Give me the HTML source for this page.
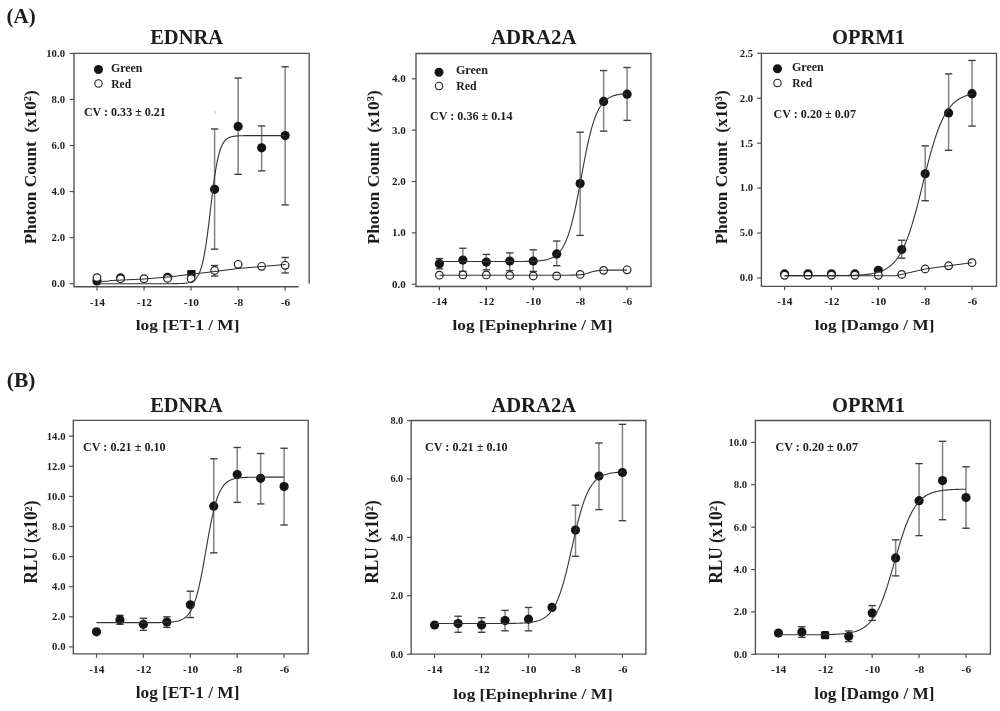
<!DOCTYPE html>
<html><head><meta charset="utf-8"><style>
html,body{margin:0;padding:0;background:#fff;}
svg{display:block;filter:grayscale(1);}
text{font-family:"Liberation Serif",serif;font-weight:bold;white-space:pre;}
</style></head><body>
<svg width="1000" height="711" viewBox="0 0 1000 711">
<rect width="1000" height="711" fill="#fff"/>
<path d="M74.00,286.70 L74.00,53.40 L309.20,53.40 L309.20,283.70" fill="none" stroke="#505050" stroke-width="1.35"/>
<line x1="73.40" y1="286.70" x2="298.60" y2="286.70" stroke="#505050" stroke-width="1.35"/>
<line x1="69.80" y1="283.70" x2="74.00" y2="283.70" stroke="#505050" stroke-width="1.2"/>
<line x1="69.80" y1="237.64" x2="74.00" y2="237.64" stroke="#505050" stroke-width="1.2"/>
<line x1="69.80" y1="191.58" x2="74.00" y2="191.58" stroke="#505050" stroke-width="1.2"/>
<line x1="69.80" y1="145.52" x2="74.00" y2="145.52" stroke="#505050" stroke-width="1.2"/>
<line x1="69.80" y1="99.46" x2="74.00" y2="99.46" stroke="#505050" stroke-width="1.2"/>
<line x1="69.80" y1="53.40" x2="74.00" y2="53.40" stroke="#505050" stroke-width="1.2"/>
<line x1="97.00" y1="286.70" x2="97.00" y2="290.50" stroke="#505050" stroke-width="1.2"/>
<line x1="120.52" y1="286.70" x2="120.52" y2="286.70" stroke="#505050" stroke-width="1.2"/>
<line x1="144.04" y1="286.70" x2="144.04" y2="290.50" stroke="#505050" stroke-width="1.2"/>
<line x1="167.56" y1="286.70" x2="167.56" y2="286.70" stroke="#505050" stroke-width="1.2"/>
<line x1="191.08" y1="286.70" x2="191.08" y2="290.50" stroke="#505050" stroke-width="1.2"/>
<line x1="214.60" y1="286.70" x2="214.60" y2="286.70" stroke="#505050" stroke-width="1.2"/>
<line x1="238.12" y1="286.70" x2="238.12" y2="290.50" stroke="#505050" stroke-width="1.2"/>
<line x1="261.64" y1="286.70" x2="261.64" y2="286.70" stroke="#505050" stroke-width="1.2"/>
<line x1="285.16" y1="286.70" x2="285.16" y2="290.50" stroke="#505050" stroke-width="1.2"/>
<circle cx="97.00" cy="280.94" r="4.6" fill="#141414"/>
<circle cx="120.52" cy="277.94" r="4.6" fill="#141414"/>
<circle cx="167.56" cy="277.25" r="4.6" fill="#141414"/>
<line x1="214.60" y1="128.94" x2="214.60" y2="249.15" stroke="#828282" stroke-width="1.5"/>
<line x1="210.90" y1="128.94" x2="218.30" y2="128.94" stroke="#3c3c3c" stroke-width="1.35"/>
<line x1="210.90" y1="249.15" x2="218.30" y2="249.15" stroke="#3c3c3c" stroke-width="1.35"/>
<circle cx="214.60" cy="189.28" r="4.6" fill="#141414"/>
<line x1="238.12" y1="78.04" x2="238.12" y2="174.31" stroke="#828282" stroke-width="1.5"/>
<line x1="234.42" y1="78.04" x2="241.82" y2="78.04" stroke="#3c3c3c" stroke-width="1.35"/>
<line x1="234.42" y1="174.31" x2="241.82" y2="174.31" stroke="#3c3c3c" stroke-width="1.35"/>
<circle cx="238.12" cy="126.41" r="4.6" fill="#141414"/>
<line x1="261.64" y1="125.94" x2="261.64" y2="170.85" stroke="#828282" stroke-width="1.5"/>
<line x1="257.94" y1="125.94" x2="265.34" y2="125.94" stroke="#3c3c3c" stroke-width="1.35"/>
<line x1="257.94" y1="170.85" x2="265.34" y2="170.85" stroke="#3c3c3c" stroke-width="1.35"/>
<circle cx="261.64" cy="147.82" r="4.6" fill="#141414"/>
<line x1="285.16" y1="66.76" x2="285.16" y2="204.94" stroke="#828282" stroke-width="1.5"/>
<line x1="281.46" y1="66.76" x2="288.86" y2="66.76" stroke="#3c3c3c" stroke-width="1.35"/>
<line x1="281.46" y1="204.94" x2="288.86" y2="204.94" stroke="#3c3c3c" stroke-width="1.35"/>
<circle cx="285.16" cy="135.62" r="4.6" fill="#141414"/>
<rect x="187.2" y="270.1" width="8.4" height="7" rx="1.2" fill="#141414"/>
<circle cx="97.00" cy="277.60" r="3.8" fill="#fff" stroke="#1e1e1e" stroke-width="1.2"/>
<circle cx="120.52" cy="278.70" r="3.8" fill="#fff" stroke="#1e1e1e" stroke-width="1.2"/>
<circle cx="144.04" cy="278.70" r="3.8" fill="#fff" stroke="#1e1e1e" stroke-width="1.2"/>
<circle cx="167.56" cy="278.40" r="3.8" fill="#fff" stroke="#1e1e1e" stroke-width="1.2"/>
<circle cx="191.08" cy="278.70" r="3.8" fill="#fff" stroke="#1e1e1e" stroke-width="1.2"/>
<line x1="214.60" y1="265.51" x2="214.60" y2="276.01" stroke="#828282" stroke-width="1.5"/>
<line x1="210.90" y1="265.51" x2="218.30" y2="265.51" stroke="#3c3c3c" stroke-width="1.35"/>
<line x1="210.90" y1="276.01" x2="218.30" y2="276.01" stroke="#3c3c3c" stroke-width="1.35"/>
<circle cx="214.60" cy="270.50" r="3.8" fill="#fff" stroke="#1e1e1e" stroke-width="1.2"/>
<circle cx="238.12" cy="264.31" r="3.8" fill="#fff" stroke="#1e1e1e" stroke-width="1.2"/>
<circle cx="261.64" cy="266.29" r="3.8" fill="#fff" stroke="#1e1e1e" stroke-width="1.2"/>
<line x1="285.16" y1="257.49" x2="285.16" y2="272.99" stroke="#828282" stroke-width="1.5"/>
<line x1="281.46" y1="257.49" x2="288.86" y2="257.49" stroke="#3c3c3c" stroke-width="1.35"/>
<line x1="281.46" y1="272.99" x2="288.86" y2="272.99" stroke="#3c3c3c" stroke-width="1.35"/>
<circle cx="285.16" cy="265.30" r="3.8" fill="#fff" stroke="#1e1e1e" stroke-width="1.2"/>
<polyline points="97.00,283.70 97.94,283.70 98.88,283.70 99.82,283.70 100.76,283.70 101.70,283.70 102.64,283.70 103.59,283.70 104.53,283.70 105.47,283.70 106.41,283.70 107.35,283.70 108.29,283.70 109.23,283.70 110.17,283.70 111.11,283.70 112.05,283.70 112.99,283.70 113.93,283.70 114.88,283.70 115.82,283.70 116.76,283.70 117.70,283.70 118.64,283.70 119.58,283.70 120.52,283.70 121.46,283.70 122.40,283.70 123.34,283.70 124.28,283.70 125.22,283.70 126.16,283.70 127.11,283.70 128.05,283.70 128.99,283.70 129.93,283.70 130.87,283.70 131.81,283.70 132.75,283.70 133.69,283.70 134.63,283.70 135.57,283.70 136.51,283.70 137.45,283.70 138.40,283.70 139.34,283.70 140.28,283.70 141.22,283.70 142.16,283.70 143.10,283.70 144.04,283.70 144.98,283.70 145.92,283.70 146.86,283.70 147.80,283.70 148.74,283.70 149.68,283.70 150.63,283.70 151.57,283.70 152.51,283.70 153.45,283.70 154.39,283.70 155.33,283.70 156.27,283.70 157.21,283.70 158.15,283.70 159.09,283.70 160.03,283.70 160.97,283.70 161.92,283.70 162.86,283.70 163.80,283.70 164.74,283.70 165.68,283.69 166.62,283.69 167.56,283.69 168.50,283.69 169.44,283.69 170.38,283.69 171.32,283.68 172.26,283.68 173.20,283.67 174.15,283.66 175.09,283.66 176.03,283.65 176.97,283.63 177.91,283.62 178.85,283.60 179.79,283.57 180.73,283.54 181.67,283.50 182.61,283.45 183.55,283.40 184.49,283.32 185.44,283.23 186.38,283.12 187.32,282.98 188.26,282.81 189.20,282.59 190.14,282.33 191.08,282.00 192.02,281.59 192.96,281.09 193.90,280.48 194.84,279.72 195.78,278.79 196.72,277.66 197.67,276.27 198.61,274.59 199.55,272.55 200.49,270.11 201.43,267.19 202.37,263.75 203.31,259.71 204.25,255.04 205.19,249.71 206.13,243.72 207.07,237.10 208.01,229.93 208.96,222.33 209.90,214.44 210.84,206.45 211.78,198.52 212.72,190.85 213.66,183.59 214.60,176.85 215.54,170.73 216.48,165.27 217.42,160.47 218.36,156.31 219.30,152.74 220.24,149.73 221.19,147.19 222.13,145.08 223.07,143.33 224.01,141.89 224.95,140.71 225.89,139.74 226.83,138.95 227.77,138.31 228.71,137.79 229.65,137.37 230.59,137.03 231.53,136.75 232.48,136.53 233.42,136.35 234.36,136.20 235.30,136.08 236.24,135.99 237.18,135.91 238.12,135.85 239.06,135.80 240.00,135.76 240.94,135.73 241.88,135.70 242.82,135.68 243.76,135.66 244.71,135.65 245.65,135.64 246.59,135.63 247.53,135.62 248.47,135.62 249.41,135.61 250.35,135.61 251.29,135.61 252.23,135.60 253.17,135.60 254.11,135.60 255.05,135.60 256.00,135.60 256.94,135.60 257.88,135.60 258.82,135.60 259.76,135.60 260.70,135.60 261.64,135.60 262.58,135.59 263.52,135.59 264.46,135.59 265.40,135.59 266.34,135.59 267.28,135.59 268.23,135.59 269.17,135.59 270.11,135.59 271.05,135.59 271.99,135.59 272.93,135.59 273.87,135.59 274.81,135.59 275.75,135.59 276.69,135.59 277.63,135.59 278.57,135.59 279.52,135.59 280.46,135.59 281.40,135.59 282.34,135.59 283.28,135.59 284.22,135.59 285.16,135.59" fill="none" stroke="#333" stroke-width="1.1"/>
<polyline points="97.00,281.40 108.00,281.30 110.00,280.60 144.00,279.00 168.00,277.00 185.00,275.00 200.00,273.20 215.00,271.50 238.00,268.50 262.00,266.50 285.50,264.50" fill="none" stroke="#2a2a2a" stroke-width="1.0"/>
<text transform="translate(51.62,287.09) scale(1.0500,1)" font-size="10.20" fill="#1c1c1c">0.0</text>
<text transform="translate(51.62,241.03) scale(1.0500,1)" font-size="10.20" fill="#1c1c1c">2.0</text>
<text transform="translate(51.62,194.97) scale(1.0500,1)" font-size="10.20" fill="#1c1c1c">4.0</text>
<text transform="translate(51.62,148.91) scale(1.0500,1)" font-size="10.20" fill="#1c1c1c">6.0</text>
<text transform="translate(51.62,102.85) scale(1.0500,1)" font-size="10.20" fill="#1c1c1c">8.0</text>
<text transform="translate(46.27,56.79) scale(1.0500,1)" font-size="10.20" fill="#1c1c1c">10.0</text>
<text transform="translate(89.68,305.50) scale(1.1200,1)" font-size="10.20" fill="#1c1c1c">-14</text>
<text transform="translate(136.86,305.50) scale(1.1200,1)" font-size="10.20" fill="#1c1c1c">-12</text>
<text transform="translate(183.87,305.50) scale(1.1200,1)" font-size="10.20" fill="#1c1c1c">-10</text>
<text transform="translate(233.74,305.50) scale(1.1200,1)" font-size="10.20" fill="#1c1c1c">-8</text>
<text transform="translate(280.76,305.50) scale(1.1200,1)" font-size="10.20" fill="#1c1c1c">-6</text>
<path d="M416.00,286.50 L416.00,53.50 L651.00,53.50 L651.00,286.50" fill="none" stroke="#505050" stroke-width="1.35"/>
<line x1="415.40" y1="286.50" x2="651.60" y2="286.50" stroke="#505050" stroke-width="1.35"/>
<line x1="411.80" y1="284.20" x2="416.00" y2="284.20" stroke="#505050" stroke-width="1.2"/>
<line x1="411.80" y1="232.85" x2="416.00" y2="232.85" stroke="#505050" stroke-width="1.2"/>
<line x1="411.80" y1="181.50" x2="416.00" y2="181.50" stroke="#505050" stroke-width="1.2"/>
<line x1="411.80" y1="130.15" x2="416.00" y2="130.15" stroke="#505050" stroke-width="1.2"/>
<line x1="411.80" y1="78.80" x2="416.00" y2="78.80" stroke="#505050" stroke-width="1.2"/>
<line x1="439.40" y1="286.50" x2="439.40" y2="290.30" stroke="#505050" stroke-width="1.2"/>
<line x1="462.86" y1="286.50" x2="462.86" y2="286.50" stroke="#505050" stroke-width="1.2"/>
<line x1="486.32" y1="286.50" x2="486.32" y2="290.30" stroke="#505050" stroke-width="1.2"/>
<line x1="509.78" y1="286.50" x2="509.78" y2="286.50" stroke="#505050" stroke-width="1.2"/>
<line x1="533.24" y1="286.50" x2="533.24" y2="290.30" stroke="#505050" stroke-width="1.2"/>
<line x1="556.70" y1="286.50" x2="556.70" y2="286.50" stroke="#505050" stroke-width="1.2"/>
<line x1="580.16" y1="286.50" x2="580.16" y2="290.30" stroke="#505050" stroke-width="1.2"/>
<line x1="603.62" y1="286.50" x2="603.62" y2="286.50" stroke="#505050" stroke-width="1.2"/>
<line x1="627.08" y1="286.50" x2="627.08" y2="290.30" stroke="#505050" stroke-width="1.2"/>
<line x1="439.40" y1="258.52" x2="439.40" y2="268.80" stroke="#828282" stroke-width="1.5"/>
<line x1="435.70" y1="258.52" x2="443.10" y2="258.52" stroke="#3c3c3c" stroke-width="1.35"/>
<line x1="435.70" y1="268.80" x2="443.10" y2="268.80" stroke="#3c3c3c" stroke-width="1.35"/>
<circle cx="439.40" cy="263.66" r="4.6" fill="#141414"/>
<line x1="462.86" y1="248.25" x2="462.86" y2="271.36" stroke="#828282" stroke-width="1.5"/>
<line x1="459.16" y1="248.25" x2="466.56" y2="248.25" stroke="#3c3c3c" stroke-width="1.35"/>
<line x1="459.16" y1="271.36" x2="466.56" y2="271.36" stroke="#3c3c3c" stroke-width="1.35"/>
<circle cx="462.86" cy="260.07" r="4.6" fill="#141414"/>
<line x1="486.32" y1="254.42" x2="486.32" y2="269.82" stroke="#828282" stroke-width="1.5"/>
<line x1="482.62" y1="254.42" x2="490.02" y2="254.42" stroke="#3c3c3c" stroke-width="1.35"/>
<line x1="482.62" y1="269.82" x2="490.02" y2="269.82" stroke="#3c3c3c" stroke-width="1.35"/>
<circle cx="486.32" cy="262.12" r="4.6" fill="#141414"/>
<line x1="509.78" y1="252.88" x2="509.78" y2="270.59" stroke="#828282" stroke-width="1.5"/>
<line x1="506.08" y1="252.88" x2="513.48" y2="252.88" stroke="#3c3c3c" stroke-width="1.35"/>
<line x1="506.08" y1="270.59" x2="513.48" y2="270.59" stroke="#3c3c3c" stroke-width="1.35"/>
<circle cx="509.78" cy="261.09" r="4.6" fill="#141414"/>
<line x1="533.24" y1="249.80" x2="533.24" y2="271.36" stroke="#828282" stroke-width="1.5"/>
<line x1="529.54" y1="249.80" x2="536.94" y2="249.80" stroke="#3c3c3c" stroke-width="1.35"/>
<line x1="529.54" y1="271.36" x2="536.94" y2="271.36" stroke="#3c3c3c" stroke-width="1.35"/>
<circle cx="533.24" cy="261.09" r="4.6" fill="#141414"/>
<line x1="556.70" y1="241.07" x2="556.70" y2="265.71" stroke="#828282" stroke-width="1.5"/>
<line x1="553.00" y1="241.07" x2="560.40" y2="241.07" stroke="#3c3c3c" stroke-width="1.35"/>
<line x1="553.00" y1="265.71" x2="560.40" y2="265.71" stroke="#3c3c3c" stroke-width="1.35"/>
<circle cx="556.70" cy="253.90" r="4.6" fill="#141414"/>
<line x1="580.16" y1="132.20" x2="580.16" y2="235.42" stroke="#828282" stroke-width="1.5"/>
<line x1="576.46" y1="132.20" x2="583.86" y2="132.20" stroke="#3c3c3c" stroke-width="1.35"/>
<line x1="576.46" y1="235.42" x2="583.86" y2="235.42" stroke="#3c3c3c" stroke-width="1.35"/>
<circle cx="580.16" cy="183.55" r="4.6" fill="#141414"/>
<line x1="603.62" y1="70.58" x2="603.62" y2="131.18" stroke="#828282" stroke-width="1.5"/>
<line x1="599.92" y1="70.58" x2="607.32" y2="70.58" stroke="#3c3c3c" stroke-width="1.35"/>
<line x1="599.92" y1="131.18" x2="607.32" y2="131.18" stroke="#3c3c3c" stroke-width="1.35"/>
<circle cx="603.62" cy="101.39" r="4.6" fill="#141414"/>
<line x1="627.08" y1="67.50" x2="627.08" y2="120.39" stroke="#828282" stroke-width="1.5"/>
<line x1="623.38" y1="67.50" x2="630.78" y2="67.50" stroke="#3c3c3c" stroke-width="1.35"/>
<line x1="623.38" y1="120.39" x2="630.78" y2="120.39" stroke="#3c3c3c" stroke-width="1.35"/>
<circle cx="627.08" cy="94.20" r="4.6" fill="#141414"/>
<circle cx="439.40" cy="275.21" r="3.8" fill="#fff" stroke="#1e1e1e" stroke-width="1.2"/>
<circle cx="462.86" cy="274.96" r="3.8" fill="#fff" stroke="#1e1e1e" stroke-width="1.2"/>
<circle cx="486.32" cy="274.96" r="3.8" fill="#fff" stroke="#1e1e1e" stroke-width="1.2"/>
<circle cx="509.78" cy="275.47" r="3.8" fill="#fff" stroke="#1e1e1e" stroke-width="1.2"/>
<circle cx="533.24" cy="275.98" r="3.8" fill="#fff" stroke="#1e1e1e" stroke-width="1.2"/>
<circle cx="556.70" cy="275.98" r="3.8" fill="#fff" stroke="#1e1e1e" stroke-width="1.2"/>
<circle cx="580.16" cy="274.44" r="3.8" fill="#fff" stroke="#1e1e1e" stroke-width="1.2"/>
<circle cx="603.62" cy="270.34" r="3.8" fill="#fff" stroke="#1e1e1e" stroke-width="1.2"/>
<circle cx="627.08" cy="269.82" r="3.8" fill="#fff" stroke="#1e1e1e" stroke-width="1.2"/>
<polyline points="439.40,261.55 440.34,261.55 441.28,261.55 442.22,261.55 443.15,261.55 444.09,261.55 445.03,261.55 445.97,261.55 446.91,261.55 447.85,261.55 448.78,261.55 449.72,261.55 450.66,261.55 451.60,261.55 452.54,261.55 453.48,261.55 454.41,261.55 455.35,261.55 456.29,261.55 457.23,261.55 458.17,261.55 459.11,261.55 460.04,261.55 460.98,261.55 461.92,261.55 462.86,261.55 463.80,261.55 464.74,261.55 465.68,261.55 466.61,261.55 467.55,261.55 468.49,261.55 469.43,261.55 470.37,261.55 471.31,261.55 472.24,261.55 473.18,261.55 474.12,261.55 475.06,261.55 476.00,261.55 476.94,261.55 477.87,261.55 478.81,261.55 479.75,261.55 480.69,261.55 481.63,261.55 482.57,261.55 483.50,261.55 484.44,261.55 485.38,261.55 486.32,261.55 487.26,261.55 488.20,261.55 489.14,261.55 490.07,261.55 491.01,261.55 491.95,261.55 492.89,261.55 493.83,261.55 494.77,261.55 495.70,261.55 496.64,261.55 497.58,261.55 498.52,261.55 499.46,261.55 500.40,261.55 501.33,261.55 502.27,261.55 503.21,261.55 504.15,261.55 505.09,261.55 506.03,261.54 506.96,261.54 507.90,261.54 508.84,261.54 509.78,261.54 510.72,261.54 511.66,261.53 512.60,261.53 513.53,261.53 514.47,261.52 515.41,261.52 516.35,261.52 517.29,261.51 518.23,261.50 519.16,261.50 520.10,261.49 521.04,261.48 521.98,261.47 522.92,261.46 523.86,261.45 524.79,261.44 525.73,261.42 526.67,261.41 527.61,261.39 528.55,261.37 529.49,261.34 530.42,261.31 531.36,261.28 532.30,261.25 533.24,261.21 534.18,261.17 535.12,261.12 536.06,261.06 536.99,261.00 537.93,260.92 538.87,260.84 539.81,260.75 540.75,260.65 541.69,260.53 542.62,260.40 543.56,260.26 544.50,260.09 545.44,259.91 546.38,259.70 547.32,259.46 548.25,259.20 549.19,258.90 550.13,258.56 551.07,258.18 552.01,257.76 552.95,257.29 553.88,256.75 554.82,256.15 555.76,255.49 556.70,254.74 557.64,253.90 558.58,252.97 559.52,251.93 560.45,250.77 561.39,249.48 562.33,248.05 563.27,246.47 564.21,244.73 565.15,242.81 566.08,240.69 567.02,238.38 567.96,235.86 568.90,233.11 569.84,230.14 570.78,226.93 571.71,223.49 572.65,219.80 573.59,215.89 574.53,211.76 575.47,207.42 576.41,202.88 577.34,198.18 578.28,193.33 579.22,188.37 580.16,183.34 581.10,178.26 582.04,173.17 582.98,168.11 583.91,163.12 584.85,158.23 585.79,153.48 586.73,148.88 587.67,144.47 588.61,140.26 589.54,136.27 590.48,132.51 591.42,128.98 592.36,125.69 593.30,122.64 594.24,119.81 595.17,117.21 596.11,114.82 597.05,112.64 597.99,110.66 598.93,108.85 599.87,107.21 600.80,105.74 601.74,104.40 602.68,103.20 603.62,102.12 604.56,101.15 605.50,100.28 606.44,99.50 607.37,98.80 608.31,98.18 609.25,97.63 610.19,97.13 611.13,96.69 612.07,96.30 613.00,95.95 613.94,95.64 614.88,95.36 615.82,95.12 616.76,94.90 617.70,94.70 618.63,94.53 619.57,94.38 620.51,94.24 621.45,94.12 622.39,94.01 623.33,93.92 624.26,93.84 625.20,93.76 626.14,93.69 627.08,93.64" fill="none" stroke="#333" stroke-width="1.1"/>
<polyline points="439.40,275.21 440.34,275.21 441.28,275.21 442.22,275.21 443.15,275.21 444.09,275.21 445.03,275.21 445.97,275.21 446.91,275.21 447.85,275.21 448.78,275.21 449.72,275.21 450.66,275.21 451.60,275.21 452.54,275.21 453.48,275.21 454.41,275.21 455.35,275.21 456.29,275.21 457.23,275.21 458.17,275.21 459.11,275.21 460.04,275.21 460.98,275.21 461.92,275.21 462.86,275.21 463.80,275.21 464.74,275.21 465.68,275.21 466.61,275.21 467.55,275.21 468.49,275.21 469.43,275.21 470.37,275.21 471.31,275.21 472.24,275.21 473.18,275.21 474.12,275.21 475.06,275.21 476.00,275.21 476.94,275.21 477.87,275.21 478.81,275.21 479.75,275.21 480.69,275.21 481.63,275.21 482.57,275.21 483.50,275.21 484.44,275.21 485.38,275.21 486.32,275.21 487.26,275.21 488.20,275.21 489.14,275.21 490.07,275.21 491.01,275.21 491.95,275.21 492.89,275.21 493.83,275.21 494.77,275.21 495.70,275.21 496.64,275.21 497.58,275.21 498.52,275.21 499.46,275.21 500.40,275.21 501.33,275.21 502.27,275.21 503.21,275.21 504.15,275.21 505.09,275.21 506.03,275.21 506.96,275.21 507.90,275.21 508.84,275.21 509.78,275.21 510.72,275.21 511.66,275.21 512.60,275.21 513.53,275.21 514.47,275.21 515.41,275.21 516.35,275.21 517.29,275.21 518.23,275.21 519.16,275.21 520.10,275.21 521.04,275.21 521.98,275.21 522.92,275.21 523.86,275.21 524.79,275.21 525.73,275.21 526.67,275.21 527.61,275.21 528.55,275.21 529.49,275.21 530.42,275.21 531.36,275.21 532.30,275.21 533.24,275.21 534.18,275.21 535.12,275.21 536.06,275.21 536.99,275.21 537.93,275.21 538.87,275.21 539.81,275.21 540.75,275.21 541.69,275.21 542.62,275.21 543.56,275.21 544.50,275.21 545.44,275.21 546.38,275.21 547.32,275.21 548.25,275.21 549.19,275.21 550.13,275.21 551.07,275.21 552.01,275.21 552.95,275.21 553.88,275.21 554.82,275.21 555.76,275.21 556.70,275.21 557.64,275.21 558.58,275.21 559.52,275.21 560.45,275.21 561.39,275.21 562.33,275.21 563.27,275.21 564.21,275.20 565.15,275.20 566.08,275.20 567.02,275.19 567.96,275.19 568.90,275.18 569.84,275.17 570.78,275.16 571.71,275.15 572.65,275.13 573.59,275.11 574.53,275.09 575.47,275.06 576.41,275.02 577.34,274.97 578.28,274.91 579.22,274.84 580.16,274.75 581.10,274.64 582.04,274.51 582.98,274.36 583.91,274.18 584.85,273.98 585.79,273.75 586.73,273.50 587.67,273.23 588.61,272.94 589.54,272.65 590.48,272.35 591.42,272.07 592.36,271.79 593.30,271.54 594.24,271.31 595.17,271.11 596.11,270.93 597.05,270.78 597.99,270.65 598.93,270.55 599.87,270.46 600.80,270.38 601.74,270.32 602.68,270.28 603.62,270.24 604.56,270.20 605.50,270.18 606.44,270.16 607.37,270.14 608.31,270.13 609.25,270.12 610.19,270.11 611.13,270.10 612.07,270.10 613.00,270.09 613.94,270.09 614.88,270.09 615.82,270.09 616.76,270.09 617.70,270.08 618.63,270.08 619.57,270.08 620.51,270.08 621.45,270.08 622.39,270.08 623.33,270.08 624.26,270.08 625.20,270.08 626.14,270.08 627.08,270.08" fill="none" stroke="#333" stroke-width="1.1"/>
<text transform="translate(391.95,287.59) scale(1.0800,1)" font-size="10.20" fill="#1c1c1c">0.0</text>
<text transform="translate(391.95,236.24) scale(1.0800,1)" font-size="10.20" fill="#1c1c1c">1.0</text>
<text transform="translate(391.95,184.89) scale(1.0800,1)" font-size="10.20" fill="#1c1c1c">2.0</text>
<text transform="translate(391.95,133.54) scale(1.0800,1)" font-size="10.20" fill="#1c1c1c">3.0</text>
<text transform="translate(391.95,82.19) scale(1.0800,1)" font-size="10.20" fill="#1c1c1c">4.0</text>
<text transform="translate(432.08,305.40) scale(1.1200,1)" font-size="10.20" fill="#1c1c1c">-14</text>
<text transform="translate(479.14,305.40) scale(1.1200,1)" font-size="10.20" fill="#1c1c1c">-12</text>
<text transform="translate(526.03,305.40) scale(1.1200,1)" font-size="10.20" fill="#1c1c1c">-10</text>
<text transform="translate(575.78,305.40) scale(1.1200,1)" font-size="10.20" fill="#1c1c1c">-8</text>
<text transform="translate(622.68,305.40) scale(1.1200,1)" font-size="10.20" fill="#1c1c1c">-6</text>
<path d="M761.40,286.30 L761.40,53.40 L996.50,53.40 L996.50,286.30" fill="none" stroke="#505050" stroke-width="1.35"/>
<line x1="760.80" y1="286.30" x2="997.10" y2="286.30" stroke="#505050" stroke-width="1.35"/>
<line x1="757.20" y1="278.00" x2="761.40" y2="278.00" stroke="#505050" stroke-width="1.2"/>
<line x1="757.20" y1="233.05" x2="761.40" y2="233.05" stroke="#505050" stroke-width="1.2"/>
<line x1="757.20" y1="188.10" x2="761.40" y2="188.10" stroke="#505050" stroke-width="1.2"/>
<line x1="757.20" y1="143.15" x2="761.40" y2="143.15" stroke="#505050" stroke-width="1.2"/>
<line x1="757.20" y1="98.20" x2="761.40" y2="98.20" stroke="#505050" stroke-width="1.2"/>
<line x1="757.20" y1="53.25" x2="761.40" y2="53.25" stroke="#505050" stroke-width="1.2"/>
<line x1="784.60" y1="286.30" x2="784.60" y2="290.10" stroke="#505050" stroke-width="1.2"/>
<line x1="808.03" y1="286.30" x2="808.03" y2="286.30" stroke="#505050" stroke-width="1.2"/>
<line x1="831.46" y1="286.30" x2="831.46" y2="290.10" stroke="#505050" stroke-width="1.2"/>
<line x1="854.89" y1="286.30" x2="854.89" y2="286.30" stroke="#505050" stroke-width="1.2"/>
<line x1="878.32" y1="286.30" x2="878.32" y2="290.10" stroke="#505050" stroke-width="1.2"/>
<line x1="901.75" y1="286.30" x2="901.75" y2="286.30" stroke="#505050" stroke-width="1.2"/>
<line x1="925.18" y1="286.30" x2="925.18" y2="290.10" stroke="#505050" stroke-width="1.2"/>
<line x1="948.61" y1="286.30" x2="948.61" y2="286.30" stroke="#505050" stroke-width="1.2"/>
<line x1="972.04" y1="286.30" x2="972.04" y2="290.10" stroke="#505050" stroke-width="1.2"/>
<circle cx="784.60" cy="273.95" r="4.6" fill="#141414"/>
<circle cx="808.03" cy="273.77" r="4.6" fill="#141414"/>
<circle cx="831.46" cy="273.77" r="4.6" fill="#141414"/>
<circle cx="854.89" cy="273.95" r="4.6" fill="#141414"/>
<circle cx="878.32" cy="270.36" r="4.6" fill="#141414"/>
<line x1="901.75" y1="240.24" x2="901.75" y2="258.22" stroke="#828282" stroke-width="1.5"/>
<line x1="898.05" y1="240.24" x2="905.45" y2="240.24" stroke="#3c3c3c" stroke-width="1.35"/>
<line x1="898.05" y1="258.22" x2="905.45" y2="258.22" stroke="#3c3c3c" stroke-width="1.35"/>
<circle cx="901.75" cy="249.50" r="4.6" fill="#141414"/>
<line x1="925.18" y1="145.85" x2="925.18" y2="200.69" stroke="#828282" stroke-width="1.5"/>
<line x1="921.48" y1="145.85" x2="928.88" y2="145.85" stroke="#3c3c3c" stroke-width="1.35"/>
<line x1="921.48" y1="200.69" x2="928.88" y2="200.69" stroke="#3c3c3c" stroke-width="1.35"/>
<circle cx="925.18" cy="173.81" r="4.6" fill="#141414"/>
<line x1="948.61" y1="73.93" x2="948.61" y2="150.34" stroke="#828282" stroke-width="1.5"/>
<line x1="944.91" y1="73.93" x2="952.31" y2="73.93" stroke="#3c3c3c" stroke-width="1.35"/>
<line x1="944.91" y1="150.34" x2="952.31" y2="150.34" stroke="#3c3c3c" stroke-width="1.35"/>
<circle cx="948.61" cy="112.94" r="4.6" fill="#141414"/>
<line x1="972.04" y1="60.44" x2="972.04" y2="126.07" stroke="#828282" stroke-width="1.5"/>
<line x1="968.34" y1="60.44" x2="975.74" y2="60.44" stroke="#3c3c3c" stroke-width="1.35"/>
<line x1="968.34" y1="126.07" x2="975.74" y2="126.07" stroke="#3c3c3c" stroke-width="1.35"/>
<circle cx="972.04" cy="93.71" r="4.6" fill="#141414"/>
<circle cx="784.60" cy="275.30" r="3.8" fill="#fff" stroke="#1e1e1e" stroke-width="1.2"/>
<circle cx="808.03" cy="275.30" r="3.8" fill="#fff" stroke="#1e1e1e" stroke-width="1.2"/>
<circle cx="831.46" cy="275.30" r="3.8" fill="#fff" stroke="#1e1e1e" stroke-width="1.2"/>
<circle cx="854.89" cy="275.30" r="3.8" fill="#fff" stroke="#1e1e1e" stroke-width="1.2"/>
<circle cx="878.32" cy="275.30" r="3.8" fill="#fff" stroke="#1e1e1e" stroke-width="1.2"/>
<circle cx="901.75" cy="274.40" r="3.8" fill="#fff" stroke="#1e1e1e" stroke-width="1.2"/>
<circle cx="925.18" cy="269.01" r="3.8" fill="#fff" stroke="#1e1e1e" stroke-width="1.2"/>
<circle cx="948.61" cy="265.77" r="3.8" fill="#fff" stroke="#1e1e1e" stroke-width="1.2"/>
<circle cx="972.04" cy="262.72" r="3.8" fill="#fff" stroke="#1e1e1e" stroke-width="1.2"/>
<polyline points="784.60,275.66 785.54,275.66 786.47,275.66 787.41,275.66 788.35,275.66 789.29,275.66 790.22,275.66 791.16,275.66 792.10,275.66 793.03,275.66 793.97,275.66 794.91,275.66 795.85,275.66 796.78,275.66 797.72,275.66 798.66,275.66 799.60,275.66 800.53,275.66 801.47,275.66 802.41,275.66 803.34,275.66 804.28,275.66 805.22,275.66 806.16,275.66 807.09,275.66 808.03,275.66 808.97,275.65 809.90,275.65 810.84,275.65 811.78,275.65 812.72,275.65 813.65,275.65 814.59,275.65 815.53,275.65 816.46,275.65 817.40,275.65 818.34,275.64 819.28,275.64 820.21,275.64 821.15,275.64 822.09,275.64 823.03,275.64 823.96,275.63 824.90,275.63 825.84,275.63 826.77,275.63 827.71,275.62 828.65,275.62 829.59,275.61 830.52,275.61 831.46,275.61 832.40,275.60 833.33,275.60 834.27,275.59 835.21,275.58 836.15,275.58 837.08,275.57 838.02,275.56 838.96,275.55 839.89,275.54 840.83,275.53 841.77,275.52 842.71,275.51 843.64,275.50 844.58,275.48 845.52,275.47 846.46,275.45 847.39,275.43 848.33,275.41 849.27,275.39 850.20,275.37 851.14,275.34 852.08,275.31 853.02,275.28 853.95,275.25 854.89,275.21 855.83,275.17 856.76,275.13 857.70,275.09 858.64,275.04 859.58,274.98 860.51,274.93 861.45,274.86 862.39,274.79 863.32,274.72 864.26,274.64 865.20,274.55 866.14,274.45 867.07,274.35 868.01,274.24 868.95,274.11 869.89,273.98 870.82,273.84 871.76,273.68 872.70,273.51 873.63,273.33 874.57,273.13 875.51,272.91 876.45,272.68 877.38,272.43 878.32,272.15 879.26,271.86 880.19,271.54 881.13,271.19 882.07,270.81 883.01,270.40 883.94,269.96 884.88,269.49 885.82,268.97 886.75,268.42 887.69,267.82 888.63,267.17 889.57,266.47 890.50,265.72 891.44,264.91 892.38,264.04 893.32,263.11 894.25,262.10 895.19,261.02 896.13,259.87 897.06,258.63 898.00,257.30 898.94,255.89 899.88,254.38 900.81,252.77 901.75,251.05 902.69,249.23 903.62,247.30 904.56,245.25 905.50,243.09 906.44,240.81 907.37,238.41 908.31,235.88 909.25,233.24 910.18,230.47 911.12,227.59 912.06,224.59 913.00,221.48 913.93,218.25 914.87,214.93 915.81,211.51 916.75,208.01 917.68,204.43 918.62,200.78 919.56,197.07 920.49,193.32 921.43,189.54 922.37,185.74 923.31,181.93 924.24,178.13 925.18,174.34 926.12,170.59 927.05,166.88 927.99,163.23 928.93,159.65 929.87,156.14 930.80,152.72 931.74,149.39 932.68,146.16 933.61,143.04 934.55,140.04 935.49,137.15 936.43,134.38 937.36,131.73 938.30,129.20 939.24,126.79 940.18,124.50 941.11,122.33 942.05,120.28 942.99,118.34 943.92,116.52 944.86,114.80 945.80,113.18 946.74,111.67 947.67,110.25 948.61,108.92 949.55,107.67 950.48,106.51 951.42,105.43 952.36,104.42 953.30,103.48 954.23,102.61 955.17,101.80 956.11,101.04 957.04,100.34 957.98,99.69 958.92,99.09 959.86,98.53 960.79,98.02 961.73,97.54 962.67,97.10 963.61,96.69 964.54,96.31 965.48,95.96 966.42,95.64 967.35,95.34 968.29,95.07 969.23,94.81 970.17,94.58 971.10,94.36 972.04,94.16" fill="none" stroke="#333" stroke-width="1.1"/>
<polyline points="784.60,275.75 894.72,275.75 901.75,274.40 925.18,269.01 948.61,265.77 972.04,262.72" fill="none" stroke="#2a2a2a" stroke-width="1.0"/>
<text transform="translate(739.82,281.39) scale(1.0500,1)" font-size="10.20" fill="#1c1c1c">0.0</text>
<text transform="translate(739.82,236.44) scale(1.0500,1)" font-size="10.20" fill="#1c1c1c">5.0</text>
<text transform="translate(739.82,191.49) scale(1.0500,1)" font-size="10.20" fill="#1c1c1c">1.0</text>
<text transform="translate(739.80,146.54) scale(1.0500,1)" font-size="10.20" fill="#1c1c1c">1.5</text>
<text transform="translate(739.82,101.59) scale(1.0500,1)" font-size="10.20" fill="#1c1c1c">2.0</text>
<text transform="translate(739.80,56.64) scale(1.0500,1)" font-size="10.20" fill="#1c1c1c">2.5</text>
<text transform="translate(777.28,305.40) scale(1.1200,1)" font-size="10.20" fill="#1c1c1c">-14</text>
<text transform="translate(824.28,305.40) scale(1.1200,1)" font-size="10.20" fill="#1c1c1c">-12</text>
<text transform="translate(871.11,305.40) scale(1.1200,1)" font-size="10.20" fill="#1c1c1c">-10</text>
<text transform="translate(920.80,305.40) scale(1.1200,1)" font-size="10.20" fill="#1c1c1c">-8</text>
<text transform="translate(967.64,305.40) scale(1.1200,1)" font-size="10.20" fill="#1c1c1c">-6</text>
<path d="M73.30,653.90 L73.30,420.40 L308.20,420.40 L308.20,653.90" fill="none" stroke="#505050" stroke-width="1.35"/>
<line x1="72.70" y1="653.90" x2="308.80" y2="653.90" stroke="#505050" stroke-width="1.35"/>
<line x1="69.10" y1="646.90" x2="73.30" y2="646.90" stroke="#505050" stroke-width="1.2"/>
<line x1="69.10" y1="616.80" x2="73.30" y2="616.80" stroke="#505050" stroke-width="1.2"/>
<line x1="69.10" y1="586.70" x2="73.30" y2="586.70" stroke="#505050" stroke-width="1.2"/>
<line x1="69.10" y1="556.60" x2="73.30" y2="556.60" stroke="#505050" stroke-width="1.2"/>
<line x1="69.10" y1="526.50" x2="73.30" y2="526.50" stroke="#505050" stroke-width="1.2"/>
<line x1="69.10" y1="496.40" x2="73.30" y2="496.40" stroke="#505050" stroke-width="1.2"/>
<line x1="69.10" y1="466.30" x2="73.30" y2="466.30" stroke="#505050" stroke-width="1.2"/>
<line x1="69.10" y1="436.20" x2="73.30" y2="436.20" stroke="#505050" stroke-width="1.2"/>
<line x1="96.50" y1="653.90" x2="96.50" y2="657.70" stroke="#505050" stroke-width="1.2"/>
<line x1="119.95" y1="653.90" x2="119.95" y2="653.90" stroke="#505050" stroke-width="1.2"/>
<line x1="143.40" y1="653.90" x2="143.40" y2="657.70" stroke="#505050" stroke-width="1.2"/>
<line x1="166.85" y1="653.90" x2="166.85" y2="653.90" stroke="#505050" stroke-width="1.2"/>
<line x1="190.30" y1="653.90" x2="190.30" y2="657.70" stroke="#505050" stroke-width="1.2"/>
<line x1="213.75" y1="653.90" x2="213.75" y2="653.90" stroke="#505050" stroke-width="1.2"/>
<line x1="237.20" y1="653.90" x2="237.20" y2="657.70" stroke="#505050" stroke-width="1.2"/>
<line x1="260.65" y1="653.90" x2="260.65" y2="653.90" stroke="#505050" stroke-width="1.2"/>
<line x1="284.10" y1="653.90" x2="284.10" y2="657.70" stroke="#505050" stroke-width="1.2"/>
<circle cx="96.50" cy="631.85" r="4.6" fill="#141414"/>
<line x1="119.95" y1="615.29" x2="119.95" y2="624.32" stroke="#828282" stroke-width="1.5"/>
<line x1="116.25" y1="615.29" x2="123.65" y2="615.29" stroke="#3c3c3c" stroke-width="1.35"/>
<line x1="116.25" y1="624.32" x2="123.65" y2="624.32" stroke="#3c3c3c" stroke-width="1.35"/>
<circle cx="119.95" cy="619.81" r="4.6" fill="#141414"/>
<line x1="143.40" y1="618.30" x2="143.40" y2="630.35" stroke="#828282" stroke-width="1.5"/>
<line x1="139.70" y1="618.30" x2="147.10" y2="618.30" stroke="#3c3c3c" stroke-width="1.35"/>
<line x1="139.70" y1="630.35" x2="147.10" y2="630.35" stroke="#3c3c3c" stroke-width="1.35"/>
<circle cx="143.40" cy="624.32" r="4.6" fill="#141414"/>
<line x1="166.85" y1="616.80" x2="166.85" y2="627.33" stroke="#828282" stroke-width="1.5"/>
<line x1="163.15" y1="616.80" x2="170.55" y2="616.80" stroke="#3c3c3c" stroke-width="1.35"/>
<line x1="163.15" y1="627.33" x2="170.55" y2="627.33" stroke="#3c3c3c" stroke-width="1.35"/>
<circle cx="166.85" cy="622.07" r="4.6" fill="#141414"/>
<line x1="190.30" y1="591.21" x2="190.30" y2="617.55" stroke="#828282" stroke-width="1.5"/>
<line x1="186.60" y1="591.21" x2="194.00" y2="591.21" stroke="#3c3c3c" stroke-width="1.35"/>
<line x1="186.60" y1="617.55" x2="194.00" y2="617.55" stroke="#3c3c3c" stroke-width="1.35"/>
<circle cx="190.30" cy="604.76" r="4.6" fill="#141414"/>
<line x1="213.75" y1="458.77" x2="213.75" y2="552.84" stroke="#828282" stroke-width="1.5"/>
<line x1="210.05" y1="458.77" x2="217.45" y2="458.77" stroke="#3c3c3c" stroke-width="1.35"/>
<line x1="210.05" y1="552.84" x2="217.45" y2="552.84" stroke="#3c3c3c" stroke-width="1.35"/>
<circle cx="213.75" cy="506.18" r="4.6" fill="#141414"/>
<line x1="237.20" y1="447.49" x2="237.20" y2="502.42" stroke="#828282" stroke-width="1.5"/>
<line x1="233.50" y1="447.49" x2="240.90" y2="447.49" stroke="#3c3c3c" stroke-width="1.35"/>
<line x1="233.50" y1="502.42" x2="240.90" y2="502.42" stroke="#3c3c3c" stroke-width="1.35"/>
<circle cx="237.20" cy="474.58" r="4.6" fill="#141414"/>
<line x1="260.65" y1="453.51" x2="260.65" y2="503.92" stroke="#828282" stroke-width="1.5"/>
<line x1="256.95" y1="453.51" x2="264.35" y2="453.51" stroke="#3c3c3c" stroke-width="1.35"/>
<line x1="256.95" y1="503.92" x2="264.35" y2="503.92" stroke="#3c3c3c" stroke-width="1.35"/>
<circle cx="260.65" cy="478.34" r="4.6" fill="#141414"/>
<line x1="284.10" y1="448.24" x2="284.10" y2="525.00" stroke="#828282" stroke-width="1.5"/>
<line x1="280.40" y1="448.24" x2="287.80" y2="448.24" stroke="#3c3c3c" stroke-width="1.35"/>
<line x1="280.40" y1="525.00" x2="287.80" y2="525.00" stroke="#3c3c3c" stroke-width="1.35"/>
<circle cx="284.10" cy="486.62" r="4.6" fill="#141414"/>
<polyline points="96.50,622.67 97.44,622.67 98.38,622.67 99.31,622.67 100.25,622.67 101.19,622.67 102.13,622.67 103.07,622.67 104.00,622.67 104.94,622.67 105.88,622.67 106.82,622.67 107.76,622.67 108.69,622.67 109.63,622.67 110.57,622.67 111.51,622.67 112.45,622.67 113.38,622.67 114.32,622.67 115.26,622.67 116.20,622.67 117.14,622.67 118.07,622.67 119.01,622.67 119.95,622.67 120.89,622.67 121.83,622.67 122.76,622.67 123.70,622.67 124.64,622.67 125.58,622.67 126.52,622.67 127.45,622.67 128.39,622.67 129.33,622.67 130.27,622.67 131.21,622.67 132.14,622.67 133.08,622.67 134.02,622.67 134.96,622.67 135.90,622.67 136.83,622.67 137.77,622.67 138.71,622.67 139.65,622.67 140.59,622.67 141.52,622.66 142.46,622.66 143.40,622.66 144.34,622.66 145.28,622.66 146.21,622.66 147.15,622.66 148.09,622.65 149.03,622.65 149.97,622.65 150.90,622.65 151.84,622.64 152.78,622.64 153.72,622.63 154.66,622.63 155.59,622.62 156.53,622.61 157.47,622.61 158.41,622.59 159.35,622.58 160.28,622.57 161.22,622.55 162.16,622.53 163.10,622.51 164.04,622.49 164.97,622.46 165.91,622.42 166.85,622.38 167.79,622.34 168.73,622.28 169.66,622.22 170.60,622.15 171.54,622.07 172.48,621.97 173.42,621.86 174.35,621.73 175.29,621.58 176.23,621.41 177.17,621.20 178.11,620.97 179.04,620.70 179.98,620.39 180.92,620.03 181.86,619.61 182.80,619.13 183.73,618.58 184.67,617.94 185.61,617.21 186.55,616.37 187.49,615.41 188.42,614.31 189.36,613.05 190.30,611.62 191.24,610.00 192.18,608.16 193.11,606.09 194.05,603.77 194.99,601.18 195.93,598.30 196.87,595.12 197.80,591.64 198.74,587.84 199.68,583.73 200.62,579.33 201.56,574.66 202.49,569.75 203.43,564.63 204.37,559.35 205.31,553.97 206.25,548.55 207.18,543.14 208.12,537.80 209.06,532.60 210.00,527.57 210.94,522.78 211.87,518.24 212.81,513.98 213.75,510.03 214.69,506.39 215.63,503.05 216.56,500.03 217.50,497.29 218.44,494.84 219.38,492.65 220.32,490.70 221.25,488.97 222.19,487.45 223.13,486.10 224.07,484.93 225.01,483.90 225.94,483.00 226.88,482.21 227.82,481.53 228.76,480.94 229.70,480.42 230.63,479.98 231.57,479.59 232.51,479.25 233.45,478.96 234.39,478.71 235.32,478.50 236.26,478.31 237.20,478.15 238.14,478.01 239.08,477.89 240.01,477.78 240.95,477.70 241.89,477.62 242.83,477.55 243.77,477.49 244.70,477.44 245.64,477.40 246.58,477.36 247.52,477.33 248.46,477.31 249.39,477.28 250.33,477.26 251.27,477.24 252.21,477.23 253.15,477.22 254.08,477.21 255.02,477.20 255.96,477.19 256.90,477.18 257.84,477.17 258.77,477.17 259.71,477.16 260.65,477.16 261.59,477.16 262.53,477.15 263.46,477.15 264.40,477.15 265.34,477.15 266.28,477.15 267.22,477.14 268.15,477.14 269.09,477.14 270.03,477.14 270.97,477.14 271.91,477.14 272.84,477.14 273.78,477.14 274.72,477.14 275.66,477.14 276.60,477.14 277.53,477.14 278.47,477.14 279.41,477.14 280.35,477.14 281.29,477.14 282.22,477.14 283.16,477.14 284.10,477.14" fill="none" stroke="#333" stroke-width="1.1"/>
<text transform="translate(52.12,650.29) scale(1.0500,1)" font-size="10.20" fill="#1c1c1c">0.0</text>
<text transform="translate(52.12,620.19) scale(1.0500,1)" font-size="10.20" fill="#1c1c1c">2.0</text>
<text transform="translate(52.12,590.09) scale(1.0500,1)" font-size="10.20" fill="#1c1c1c">4.0</text>
<text transform="translate(52.12,559.99) scale(1.0500,1)" font-size="10.20" fill="#1c1c1c">6.0</text>
<text transform="translate(52.12,529.89) scale(1.0500,1)" font-size="10.20" fill="#1c1c1c">8.0</text>
<text transform="translate(46.77,499.79) scale(1.0500,1)" font-size="10.20" fill="#1c1c1c">10.0</text>
<text transform="translate(46.77,469.69) scale(1.0500,1)" font-size="10.20" fill="#1c1c1c">12.0</text>
<text transform="translate(46.77,439.59) scale(1.0500,1)" font-size="10.20" fill="#1c1c1c">14.0</text>
<text transform="translate(89.18,673.00) scale(1.1200,1)" font-size="10.20" fill="#1c1c1c">-14</text>
<text transform="translate(136.22,673.00) scale(1.1200,1)" font-size="10.20" fill="#1c1c1c">-12</text>
<text transform="translate(183.09,673.00) scale(1.1200,1)" font-size="10.20" fill="#1c1c1c">-10</text>
<text transform="translate(232.82,673.00) scale(1.1200,1)" font-size="10.20" fill="#1c1c1c">-8</text>
<text transform="translate(279.70,673.00) scale(1.1200,1)" font-size="10.20" fill="#1c1c1c">-6</text>
<path d="M411.20,654.10 L411.20,420.50 L645.90,420.50 L645.90,654.10" fill="none" stroke="#505050" stroke-width="1.35"/>
<line x1="410.60" y1="654.10" x2="646.50" y2="654.10" stroke="#505050" stroke-width="1.35"/>
<line x1="407.00" y1="654.20" x2="411.20" y2="654.20" stroke="#505050" stroke-width="1.2"/>
<line x1="407.00" y1="595.78" x2="411.20" y2="595.78" stroke="#505050" stroke-width="1.2"/>
<line x1="407.00" y1="537.36" x2="411.20" y2="537.36" stroke="#505050" stroke-width="1.2"/>
<line x1="407.00" y1="478.94" x2="411.20" y2="478.94" stroke="#505050" stroke-width="1.2"/>
<line x1="407.00" y1="420.52" x2="411.20" y2="420.52" stroke="#505050" stroke-width="1.2"/>
<line x1="434.60" y1="654.10" x2="434.60" y2="657.90" stroke="#505050" stroke-width="1.2"/>
<line x1="458.08" y1="654.10" x2="458.08" y2="654.10" stroke="#505050" stroke-width="1.2"/>
<line x1="481.56" y1="654.10" x2="481.56" y2="657.90" stroke="#505050" stroke-width="1.2"/>
<line x1="505.04" y1="654.10" x2="505.04" y2="654.10" stroke="#505050" stroke-width="1.2"/>
<line x1="528.52" y1="654.10" x2="528.52" y2="657.90" stroke="#505050" stroke-width="1.2"/>
<line x1="552.00" y1="654.10" x2="552.00" y2="654.10" stroke="#505050" stroke-width="1.2"/>
<line x1="575.48" y1="654.10" x2="575.48" y2="657.90" stroke="#505050" stroke-width="1.2"/>
<line x1="598.96" y1="654.10" x2="598.96" y2="654.10" stroke="#505050" stroke-width="1.2"/>
<line x1="622.44" y1="654.10" x2="622.44" y2="657.90" stroke="#505050" stroke-width="1.2"/>
<circle cx="434.60" cy="624.99" r="4.6" fill="#141414"/>
<line x1="458.08" y1="616.23" x2="458.08" y2="632.29" stroke="#828282" stroke-width="1.5"/>
<line x1="454.38" y1="616.23" x2="461.78" y2="616.23" stroke="#3c3c3c" stroke-width="1.35"/>
<line x1="454.38" y1="632.29" x2="461.78" y2="632.29" stroke="#3c3c3c" stroke-width="1.35"/>
<circle cx="458.08" cy="623.53" r="4.6" fill="#141414"/>
<line x1="481.56" y1="617.69" x2="481.56" y2="632.29" stroke="#828282" stroke-width="1.5"/>
<line x1="477.86" y1="617.69" x2="485.26" y2="617.69" stroke="#3c3c3c" stroke-width="1.35"/>
<line x1="477.86" y1="632.29" x2="485.26" y2="632.29" stroke="#3c3c3c" stroke-width="1.35"/>
<circle cx="481.56" cy="624.99" r="4.6" fill="#141414"/>
<line x1="505.04" y1="610.38" x2="505.04" y2="630.83" stroke="#828282" stroke-width="1.5"/>
<line x1="501.34" y1="610.38" x2="508.74" y2="610.38" stroke="#3c3c3c" stroke-width="1.35"/>
<line x1="501.34" y1="630.83" x2="508.74" y2="630.83" stroke="#3c3c3c" stroke-width="1.35"/>
<circle cx="505.04" cy="620.61" r="4.6" fill="#141414"/>
<line x1="528.52" y1="607.46" x2="528.52" y2="630.83" stroke="#828282" stroke-width="1.5"/>
<line x1="524.82" y1="607.46" x2="532.22" y2="607.46" stroke="#3c3c3c" stroke-width="1.35"/>
<line x1="524.82" y1="630.83" x2="532.22" y2="630.83" stroke="#3c3c3c" stroke-width="1.35"/>
<circle cx="528.52" cy="619.15" r="4.6" fill="#141414"/>
<circle cx="552.00" cy="607.46" r="4.6" fill="#141414"/>
<line x1="575.48" y1="505.23" x2="575.48" y2="556.35" stroke="#828282" stroke-width="1.5"/>
<line x1="571.78" y1="505.23" x2="579.18" y2="505.23" stroke="#3c3c3c" stroke-width="1.35"/>
<line x1="571.78" y1="556.35" x2="579.18" y2="556.35" stroke="#3c3c3c" stroke-width="1.35"/>
<circle cx="575.48" cy="530.06" r="4.6" fill="#141414"/>
<line x1="598.96" y1="443.01" x2="598.96" y2="509.61" stroke="#828282" stroke-width="1.5"/>
<line x1="595.26" y1="443.01" x2="602.66" y2="443.01" stroke="#3c3c3c" stroke-width="1.35"/>
<line x1="595.26" y1="509.61" x2="602.66" y2="509.61" stroke="#3c3c3c" stroke-width="1.35"/>
<circle cx="598.96" cy="476.02" r="4.6" fill="#141414"/>
<line x1="622.44" y1="424.32" x2="622.44" y2="520.71" stroke="#828282" stroke-width="1.5"/>
<line x1="618.74" y1="424.32" x2="626.14" y2="424.32" stroke="#3c3c3c" stroke-width="1.35"/>
<line x1="618.74" y1="520.71" x2="626.14" y2="520.71" stroke="#3c3c3c" stroke-width="1.35"/>
<circle cx="622.44" cy="472.51" r="4.6" fill="#141414"/>
<polyline points="434.60,623.53 435.54,623.53 436.48,623.53 437.42,623.53 438.36,623.53 439.30,623.53 440.24,623.53 441.17,623.53 442.11,623.53 443.05,623.53 443.99,623.53 444.93,623.53 445.87,623.53 446.81,623.53 447.75,623.53 448.69,623.53 449.63,623.53 450.57,623.53 451.51,623.53 452.44,623.53 453.38,623.53 454.32,623.53 455.26,623.53 456.20,623.53 457.14,623.53 458.08,623.53 459.02,623.53 459.96,623.53 460.90,623.53 461.84,623.53 462.78,623.53 463.72,623.53 464.65,623.53 465.59,623.53 466.53,623.53 467.47,623.53 468.41,623.53 469.35,623.53 470.29,623.53 471.23,623.53 472.17,623.53 473.11,623.53 474.05,623.53 474.99,623.53 475.92,623.53 476.86,623.53 477.80,623.53 478.74,623.53 479.68,623.53 480.62,623.53 481.56,623.53 482.50,623.53 483.44,623.52 484.38,623.52 485.32,623.52 486.26,623.52 487.20,623.52 488.13,623.52 489.07,623.52 490.01,623.52 490.95,623.52 491.89,623.52 492.83,623.52 493.77,623.51 494.71,623.51 495.65,623.51 496.59,623.51 497.53,623.51 498.47,623.50 499.40,623.50 500.34,623.50 501.28,623.49 502.22,623.49 503.16,623.48 504.10,623.48 505.04,623.47 505.98,623.47 506.92,623.46 507.86,623.45 508.80,623.44 509.74,623.43 510.68,623.42 511.61,623.40 512.55,623.39 513.49,623.37 514.43,623.36 515.37,623.33 516.31,623.31 517.25,623.29 518.19,623.26 519.13,623.23 520.07,623.19 521.01,623.15 521.95,623.11 522.88,623.06 523.82,623.00 524.76,622.94 525.70,622.88 526.64,622.80 527.58,622.71 528.52,622.62 529.46,622.51 530.40,622.40 531.34,622.27 532.28,622.12 533.22,621.96 534.16,621.77 535.09,621.57 536.03,621.35 536.97,621.09 537.91,620.81 538.85,620.50 539.79,620.16 540.73,619.77 541.67,619.35 542.61,618.87 543.55,618.35 544.49,617.77 545.43,617.12 546.36,616.41 547.30,615.62 548.24,614.75 549.18,613.79 550.12,612.73 551.06,611.56 552.00,610.29 552.94,608.89 553.88,607.36 554.82,605.69 555.76,603.88 556.70,601.91 557.64,599.78 558.57,597.48 559.51,595.01 560.45,592.36 561.39,589.53 562.33,586.52 563.27,583.34 564.21,579.99 565.15,576.48 566.09,572.82 567.03,569.02 567.97,565.10 568.91,561.08 569.84,556.98 570.78,552.82 571.72,548.63 572.66,544.44 573.60,540.26 574.54,536.13 575.48,532.07 576.42,528.09 577.36,524.23 578.30,520.50 579.24,516.91 580.18,513.48 581.12,510.21 582.05,507.12 582.99,504.20 583.93,501.46 584.87,498.90 585.81,496.52 586.75,494.30 587.69,492.25 588.63,490.36 589.57,488.62 590.51,487.02 591.45,485.56 592.39,484.23 593.32,483.01 594.26,481.90 595.20,480.89 596.14,479.97 597.08,479.15 598.02,478.39 598.96,477.72 599.90,477.10 600.84,476.55 601.78,476.05 602.72,475.60 603.66,475.20 604.60,474.83 605.53,474.50 606.47,474.21 607.41,473.94 608.35,473.71 609.29,473.49 610.23,473.30 611.17,473.13 612.11,472.97 613.05,472.83 613.99,472.71 614.93,472.60 615.87,472.50 616.80,472.41 617.74,472.33 618.68,472.26 619.62,472.19 620.56,472.13 621.50,472.08 622.44,472.04" fill="none" stroke="#333" stroke-width="1.1"/>
<text transform="translate(390.44,657.59) scale(1.0000,1)" font-size="10.20" fill="#1c1c1c">0.0</text>
<text transform="translate(390.44,599.17) scale(1.0000,1)" font-size="10.20" fill="#1c1c1c">2.0</text>
<text transform="translate(390.44,540.75) scale(1.0000,1)" font-size="10.20" fill="#1c1c1c">4.0</text>
<text transform="translate(390.44,482.33) scale(1.0000,1)" font-size="10.20" fill="#1c1c1c">6.0</text>
<text transform="translate(390.44,423.91) scale(1.0000,1)" font-size="10.20" fill="#1c1c1c">8.0</text>
<text transform="translate(427.28,672.80) scale(1.1200,1)" font-size="10.20" fill="#1c1c1c">-14</text>
<text transform="translate(474.38,672.80) scale(1.1200,1)" font-size="10.20" fill="#1c1c1c">-12</text>
<text transform="translate(521.31,672.80) scale(1.1200,1)" font-size="10.20" fill="#1c1c1c">-10</text>
<text transform="translate(571.10,672.80) scale(1.1200,1)" font-size="10.20" fill="#1c1c1c">-8</text>
<text transform="translate(618.04,672.80) scale(1.1200,1)" font-size="10.20" fill="#1c1c1c">-6</text>
<path d="M755.40,654.10 L755.40,420.50 L990.40,420.50 L990.40,654.10" fill="none" stroke="#505050" stroke-width="1.35"/>
<line x1="754.80" y1="654.10" x2="991.00" y2="654.10" stroke="#505050" stroke-width="1.35"/>
<line x1="751.20" y1="654.30" x2="755.40" y2="654.30" stroke="#505050" stroke-width="1.2"/>
<line x1="751.20" y1="611.92" x2="755.40" y2="611.92" stroke="#505050" stroke-width="1.2"/>
<line x1="751.20" y1="569.54" x2="755.40" y2="569.54" stroke="#505050" stroke-width="1.2"/>
<line x1="751.20" y1="527.16" x2="755.40" y2="527.16" stroke="#505050" stroke-width="1.2"/>
<line x1="751.20" y1="484.78" x2="755.40" y2="484.78" stroke="#505050" stroke-width="1.2"/>
<line x1="751.20" y1="442.40" x2="755.40" y2="442.40" stroke="#505050" stroke-width="1.2"/>
<line x1="778.40" y1="654.10" x2="778.40" y2="657.90" stroke="#505050" stroke-width="1.2"/>
<line x1="801.85" y1="654.10" x2="801.85" y2="654.10" stroke="#505050" stroke-width="1.2"/>
<line x1="825.30" y1="654.10" x2="825.30" y2="657.90" stroke="#505050" stroke-width="1.2"/>
<line x1="848.75" y1="654.10" x2="848.75" y2="654.10" stroke="#505050" stroke-width="1.2"/>
<line x1="872.20" y1="654.10" x2="872.20" y2="657.90" stroke="#505050" stroke-width="1.2"/>
<line x1="895.65" y1="654.10" x2="895.65" y2="654.10" stroke="#505050" stroke-width="1.2"/>
<line x1="919.10" y1="654.10" x2="919.10" y2="657.90" stroke="#505050" stroke-width="1.2"/>
<line x1="942.55" y1="654.10" x2="942.55" y2="654.10" stroke="#505050" stroke-width="1.2"/>
<line x1="966.00" y1="654.10" x2="966.00" y2="657.90" stroke="#505050" stroke-width="1.2"/>
<circle cx="778.40" cy="633.11" r="4.6" fill="#141414"/>
<line x1="801.85" y1="626.75" x2="801.85" y2="637.35" stroke="#828282" stroke-width="1.5"/>
<line x1="798.15" y1="626.75" x2="805.55" y2="626.75" stroke="#3c3c3c" stroke-width="1.35"/>
<line x1="798.15" y1="637.35" x2="805.55" y2="637.35" stroke="#3c3c3c" stroke-width="1.35"/>
<circle cx="801.85" cy="632.05" r="4.6" fill="#141414"/>
<line x1="848.75" y1="630.99" x2="848.75" y2="641.59" stroke="#828282" stroke-width="1.5"/>
<line x1="845.05" y1="630.99" x2="852.45" y2="630.99" stroke="#3c3c3c" stroke-width="1.35"/>
<line x1="845.05" y1="641.59" x2="852.45" y2="641.59" stroke="#3c3c3c" stroke-width="1.35"/>
<circle cx="848.75" cy="636.29" r="4.6" fill="#141414"/>
<line x1="872.20" y1="605.56" x2="872.20" y2="620.40" stroke="#828282" stroke-width="1.5"/>
<line x1="868.50" y1="605.56" x2="875.90" y2="605.56" stroke="#3c3c3c" stroke-width="1.35"/>
<line x1="868.50" y1="620.40" x2="875.90" y2="620.40" stroke="#3c3c3c" stroke-width="1.35"/>
<circle cx="872.20" cy="612.98" r="4.6" fill="#141414"/>
<line x1="895.65" y1="539.87" x2="895.65" y2="575.90" stroke="#828282" stroke-width="1.5"/>
<line x1="891.95" y1="539.87" x2="899.35" y2="539.87" stroke="#3c3c3c" stroke-width="1.35"/>
<line x1="891.95" y1="575.90" x2="899.35" y2="575.90" stroke="#3c3c3c" stroke-width="1.35"/>
<circle cx="895.65" cy="557.89" r="4.6" fill="#141414"/>
<line x1="919.10" y1="463.59" x2="919.10" y2="535.64" stroke="#828282" stroke-width="1.5"/>
<line x1="915.40" y1="463.59" x2="922.80" y2="463.59" stroke="#3c3c3c" stroke-width="1.35"/>
<line x1="915.40" y1="535.64" x2="922.80" y2="535.64" stroke="#3c3c3c" stroke-width="1.35"/>
<circle cx="919.10" cy="500.67" r="4.6" fill="#141414"/>
<line x1="942.55" y1="441.34" x2="942.55" y2="519.74" stroke="#828282" stroke-width="1.5"/>
<line x1="938.85" y1="441.34" x2="946.25" y2="441.34" stroke="#3c3c3c" stroke-width="1.35"/>
<line x1="938.85" y1="519.74" x2="946.25" y2="519.74" stroke="#3c3c3c" stroke-width="1.35"/>
<circle cx="942.55" cy="480.54" r="4.6" fill="#141414"/>
<line x1="966.00" y1="466.77" x2="966.00" y2="528.22" stroke="#828282" stroke-width="1.5"/>
<line x1="962.30" y1="466.77" x2="969.70" y2="466.77" stroke="#3c3c3c" stroke-width="1.35"/>
<line x1="962.30" y1="528.22" x2="969.70" y2="528.22" stroke="#3c3c3c" stroke-width="1.35"/>
<circle cx="966.00" cy="497.49" r="4.6" fill="#141414"/>
<rect x="820.9" y="630.9" width="8.3" height="8.4" rx="1.6" fill="#141414"/>
<polyline points="778.40,634.80 779.34,634.80 780.28,634.80 781.21,634.80 782.15,634.80 783.09,634.80 784.03,634.80 784.97,634.80 785.90,634.80 786.84,634.80 787.78,634.80 788.72,634.80 789.66,634.80 790.59,634.80 791.53,634.80 792.47,634.80 793.41,634.80 794.35,634.80 795.28,634.79 796.22,634.79 797.16,634.79 798.10,634.79 799.04,634.79 799.97,634.79 800.91,634.79 801.85,634.79 802.79,634.78 803.73,634.78 804.66,634.78 805.60,634.78 806.54,634.77 807.48,634.77 808.42,634.77 809.35,634.76 810.29,634.76 811.23,634.76 812.17,634.75 813.11,634.75 814.04,634.74 814.98,634.74 815.92,634.73 816.86,634.72 817.80,634.71 818.73,634.71 819.67,634.70 820.61,634.69 821.55,634.67 822.49,634.66 823.42,634.65 824.36,634.63 825.30,634.62 826.24,634.60 827.18,634.58 828.11,634.56 829.05,634.54 829.99,634.51 830.93,634.48 831.87,634.45 832.80,634.42 833.74,634.38 834.68,634.34 835.62,634.30 836.56,634.25 837.49,634.20 838.43,634.15 839.37,634.08 840.31,634.02 841.25,633.94 842.18,633.86 843.12,633.77 844.06,633.67 845.00,633.57 845.94,633.45 846.87,633.33 847.81,633.19 848.75,633.04 849.69,632.87 850.63,632.69 851.56,632.50 852.50,632.28 853.44,632.05 854.38,631.79 855.32,631.52 856.25,631.21 857.19,630.88 858.13,630.52 859.07,630.13 860.01,629.70 860.94,629.24 861.88,628.74 862.82,628.19 863.76,627.60 864.70,626.95 865.63,626.25 866.57,625.50 867.51,624.68 868.45,623.79 869.39,622.84 870.32,621.81 871.26,620.70 872.20,619.51 873.14,618.23 874.08,616.86 875.01,615.39 875.95,613.82 876.89,612.14 877.83,610.36 878.77,608.47 879.70,606.46 880.64,604.35 881.58,602.11 882.52,599.77 883.46,597.31 884.39,594.74 885.33,592.07 886.27,589.29 887.21,586.42 888.15,583.45 889.08,580.41 890.02,577.30 890.96,574.13 891.90,570.91 892.84,567.66 893.77,564.38 894.71,561.09 895.65,557.80 896.59,554.54 897.53,551.30 898.46,548.10 899.40,544.96 900.34,541.88 901.28,538.88 902.22,535.96 903.15,533.13 904.09,530.41 905.03,527.79 905.97,525.27 906.91,522.87 907.84,520.58 908.78,518.40 909.72,516.34 910.66,514.40 911.60,512.56 912.53,510.83 913.47,509.21 914.41,507.69 915.35,506.27 916.29,504.94 917.22,503.71 918.16,502.56 919.10,501.49 920.04,500.50 920.98,499.58 921.91,498.73 922.85,497.94 923.79,497.21 924.73,496.54 925.67,495.92 926.60,495.35 927.54,494.83 928.48,494.35 929.42,493.90 930.36,493.49 931.29,493.12 932.23,492.77 933.17,492.46 934.11,492.17 935.05,491.90 935.98,491.66 936.92,491.43 937.86,491.23 938.80,491.04 939.74,490.87 940.67,490.71 941.61,490.56 942.55,490.43 943.49,490.31 944.43,490.20 945.36,490.10 946.30,490.01 947.24,489.92 948.18,489.84 949.12,489.77 950.05,489.71 950.99,489.65 951.93,489.59 952.87,489.55 953.81,489.50 954.74,489.46 955.68,489.42 956.62,489.39 957.56,489.35 958.50,489.33 959.43,489.30 960.37,489.27 961.31,489.25 962.25,489.23 963.19,489.21 964.12,489.20 965.06,489.18 966.00,489.17" fill="none" stroke="#333" stroke-width="1.1"/>
<text transform="translate(733.82,657.69) scale(1.0500,1)" font-size="10.20" fill="#1c1c1c">0.0</text>
<text transform="translate(733.82,615.31) scale(1.0500,1)" font-size="10.20" fill="#1c1c1c">2.0</text>
<text transform="translate(733.82,572.93) scale(1.0500,1)" font-size="10.20" fill="#1c1c1c">4.0</text>
<text transform="translate(733.82,530.55) scale(1.0500,1)" font-size="10.20" fill="#1c1c1c">6.0</text>
<text transform="translate(733.82,488.17) scale(1.0500,1)" font-size="10.20" fill="#1c1c1c">8.0</text>
<text transform="translate(728.47,445.79) scale(1.0500,1)" font-size="10.20" fill="#1c1c1c">10.0</text>
<text transform="translate(771.08,672.80) scale(1.1200,1)" font-size="10.20" fill="#1c1c1c">-14</text>
<text transform="translate(818.12,672.80) scale(1.1200,1)" font-size="10.20" fill="#1c1c1c">-12</text>
<text transform="translate(864.99,672.80) scale(1.1200,1)" font-size="10.20" fill="#1c1c1c">-10</text>
<text transform="translate(914.72,672.80) scale(1.1200,1)" font-size="10.20" fill="#1c1c1c">-8</text>
<text transform="translate(961.60,672.80) scale(1.1200,1)" font-size="10.20" fill="#1c1c1c">-6</text>
<line x1="215.20" y1="110.80" x2="215.20" y2="114.00" stroke="#bbb" stroke-width="0.8"/>
<text transform="translate(6.58,22.75) scale(0.9983,1)" font-size="20.99" fill="#1c1c1c">(A)</text>
<text transform="translate(6.81,387.25) scale(1.0424,1)" font-size="20.61" fill="#1c1c1c">(B)</text>
<text transform="translate(150.15,43.80) scale(0.9606,1)" font-size="21.37" fill="#1c1c1c">EDNRA</text>
<text transform="translate(491.00,43.65) scale(0.9867,1)" font-size="21.07" fill="#1c1c1c">ADRA2A</text>
<text transform="translate(832.00,43.50) scale(0.9756,1)" font-size="21.07" fill="#1c1c1c">OPRM1</text>
<text transform="translate(150.15,412.30) scale(0.9893,1)" font-size="20.61" fill="#1c1c1c">EDNRA</text>
<text transform="translate(491.30,412.40) scale(0.9941,1)" font-size="20.76" fill="#1c1c1c">ADRA2A</text>
<text transform="translate(832.00,412.30) scale(0.9900,1)" font-size="20.76" fill="#1c1c1c">OPRM1</text>
<text transform="translate(135.66,329.80) scale(1.1130,1)" font-size="15.57" fill="#1c1c1c">log [ET-1 / M]</text>
<text transform="translate(452.56,329.60) scale(1.1218,1)" font-size="15.42" fill="#1c1c1c">log [Epinephrine / M]</text>
<text transform="translate(814.66,329.80) scale(1.1147,1)" font-size="15.42" fill="#1c1c1c">log [Damgo / M]</text>
<text transform="translate(135.66,698.40) scale(1.0916,1)" font-size="15.88" fill="#1c1c1c">log [ET-1 / M]</text>
<text transform="translate(453.26,698.60) scale(1.1183,1)" font-size="15.42" fill="#1c1c1c">log [Epinephrine / M]</text>
<text transform="translate(814.36,698.50) scale(1.0958,1)" font-size="15.73" fill="#1c1c1c">log [Damgo / M]</text>
<text transform="translate(35.80,244.29) rotate(-90) scale(0.9822,1)" font-size="17.56" fill="#1c1c1c">Photon Count  (x10²)</text>
<text transform="translate(378.60,244.29) rotate(-90) scale(1.0072,1)" font-size="17.10" fill="#1c1c1c">Photon Count  (x10³)</text>
<text transform="translate(726.70,244.29) rotate(-90) scale(0.9822,1)" font-size="17.56" fill="#1c1c1c">Photon Count  (x10³)</text>
<text transform="translate(36.90,583.79) rotate(-90) scale(0.9573,1)" font-size="18.02" fill="#1c1c1c">RLU (x10²)</text>
<text transform="translate(378.20,583.70) rotate(-90) scale(0.9585,1)" font-size="18.02" fill="#1c1c1c">RLU (x10²)</text>
<text transform="translate(721.90,583.70) rotate(-90) scale(0.9585,1)" font-size="18.02" fill="#1c1c1c">RLU (x10²)</text>
<circle cx="98.5" cy="69.5" r="4.5" fill="#141414"/>
<circle cx="98.5" cy="83.5" r="3.7" fill="#fff" stroke="#1e1e1e" stroke-width="1.1"/>
<text transform="translate(110.92,72.20) scale(0.9756,1)" font-size="12.21" fill="#1c1c1c">Green</text>
<text transform="translate(111.30,87.50) scale(0.9426,1)" font-size="12.21" fill="#1c1c1c">Red</text>
<circle cx="439" cy="72.3" r="4.5" fill="#141414"/>
<circle cx="439" cy="86" r="3.7" fill="#fff" stroke="#1e1e1e" stroke-width="1.1"/>
<text transform="translate(455.91,73.50) scale(0.9914,1)" font-size="12.21" fill="#1c1c1c">Green</text>
<text transform="translate(456.30,89.50) scale(0.9667,1)" font-size="12.21" fill="#1c1c1c">Red</text>
<circle cx="777.5" cy="68.8" r="4.5" fill="#141414"/>
<circle cx="777.5" cy="83" r="3.7" fill="#fff" stroke="#1e1e1e" stroke-width="1.1"/>
<text transform="translate(791.91,71.00) scale(0.9851,1)" font-size="12.21" fill="#1c1c1c">Green</text>
<text transform="translate(792.30,86.50) scale(0.9426,1)" font-size="12.21" fill="#1c1c1c">Red</text>
<text transform="translate(83.91,116.00) scale(1.0380,1)" font-size="11.60" fill="#1c1c1c">CV : 0.33 ± 0.21</text>
<text transform="translate(429.91,119.50) scale(1.0188,1)" font-size="11.91" fill="#1c1c1c">CV : 0.36 ± 0.14</text>
<text transform="translate(773.41,117.50) scale(1.0465,1)" font-size="11.60" fill="#1c1c1c">CV : 0.20 ± 0.07</text>
<text transform="translate(82.91,451.00) scale(1.0350,1)" font-size="11.76" fill="#1c1c1c">CV : 0.21 ± 0.10</text>
<text transform="translate(424.91,451.00) scale(1.0350,1)" font-size="11.76" fill="#1c1c1c">CV : 0.21 ± 0.10</text>
<text transform="translate(775.41,451.00) scale(1.0465,1)" font-size="11.60" fill="#1c1c1c">CV : 0.20 ± 0.07</text>
</svg>
</body></html>
